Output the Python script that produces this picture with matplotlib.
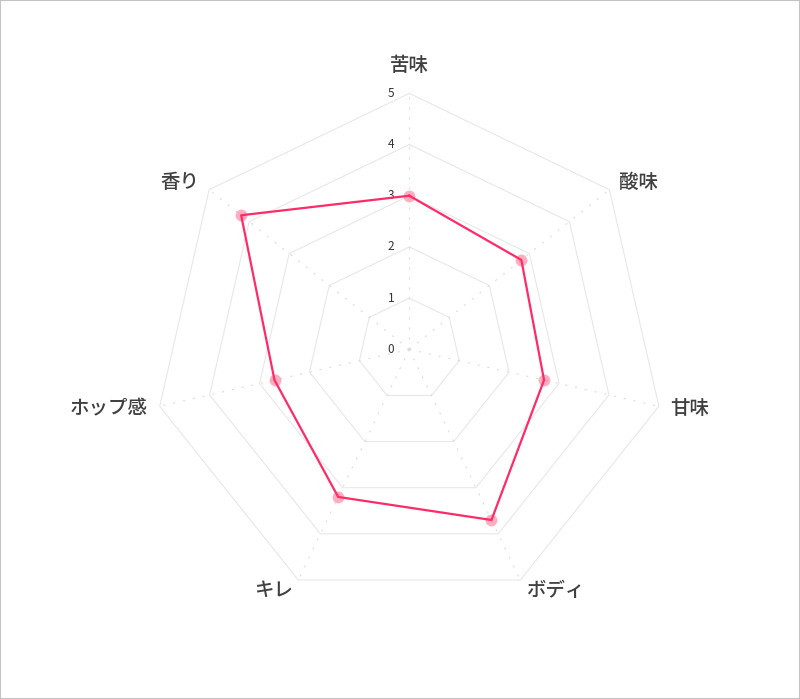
import numpy as np
import matplotlib
matplotlib.use('Agg')
import matplotlib.pyplot as plt
from matplotlib.patches import Rectangle

plt.rcParams['font.family'] = ['Noto Sans CJK JP', 'DejaVu Sans']
plt.rcParams['lines.scale_dashes'] = False

# chart data
categories = ['苦味', '酸味', '甘味', 'ボディ', 'キレ', 'ホップ感', '香り']
values = [3.0, 2.8, 2.7, 3.7, 3.2, 2.7, 4.2]
levels = [0, 1, 2, 3, 4, 5]

line_color = '#ff2a68'
grid_color = '#e6e6e6'
text_color = '#404040'

n = len(categories)
theta = np.arange(n) * 2 * np.pi / n

fig = plt.figure(figsize=(8, 6.99), dpi=100)
ax = fig.add_axes([0.1916, 0.134, 0.64, 0.7325], projection='polar')
ax.set_theta_offset(np.pi / 2)
ax.set_theta_direction(-1)
ax.set_ylim(0, 5)
ax.grid(False)
ax.spines['polar'].set_visible(False)
ax.set_xticks([])
ax.set_yticks([])

# heptagon grid
closed = np.append(theta, theta[0])
for lvl in levels[1:]:
    ax.plot(closed, [lvl] * (n + 1), color=grid_color, lw=0.75, clip_on=False, zorder=1)

# dotted spokes
for t in theta:
    ax.plot([t, t], [0, levels[-1]], color='#dcdcdc', lw=0.8,
            linestyle=(0, (1.5, 5.7)), clip_on=False, zorder=1)

# tick labels along the top spoke
for lvl in levels:
    ax.annotate(str(lvl), xy=(0, lvl), xytext=(-18.5, 0), textcoords='offset pixels',
                ha='center', va='center', fontsize=8.5, color='#333333',
                annotation_clip=False)

# category labels
pad = 12
for t, name in zip(theta, categories):
    dx, dy = np.sin(t), np.cos(t)
    if abs(dx) < 0.01:
        ha, va, p = 'center', 'bottom', 18
    else:
        ha = 'left' if dx > 0 else 'right'
        va, p = 'center', pad
    ax.annotate(name, xy=(t, levels[-1]), xytext=(dx * p, dy * p),
                textcoords='offset pixels', ha=ha, va=va, fontsize=14,
                fontweight='medium', color=text_color, annotation_clip=False)

# data series
v_closed = values + values[:1]
ax.plot(closed, v_closed, color=line_color, lw=1.6, zorder=3, clip_on=False)
ax.plot(theta, values, linestyle='none', marker='o', markersize=8.5,
        markerfacecolor=(1.0, 0.2, 0.4, 0.4), markeredgecolor='none',
        zorder=4, clip_on=False)

fig.patches.append(Rectangle((0, 0), 1, 1, transform=fig.transFigure, fill=False,
                             edgecolor='#c4c4c4', lw=1.5))

fig.savefig('out.png', dpi=100, facecolor='white')
